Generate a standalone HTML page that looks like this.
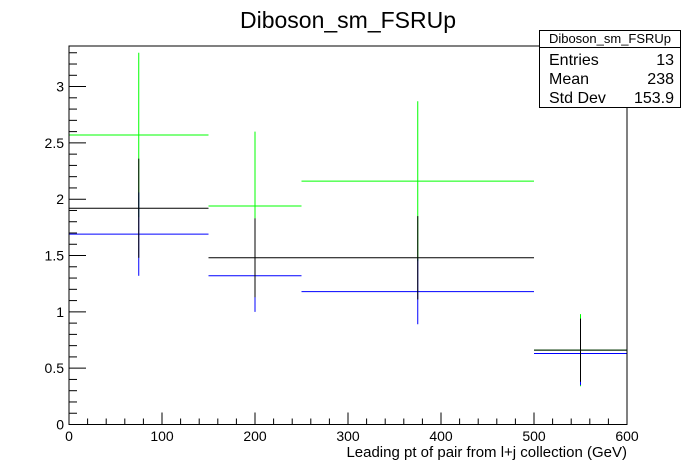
<!DOCTYPE html>
<html><head><meta charset="utf-8"><style>
body{margin:0;background:#fff;}
svg{display:block;font-family:"Liberation Sans",sans-serif;}
</style></head><body>
<svg id="c" width="696" height="472" viewBox="0 0 696 472">
<rect width="696" height="472" fill="#fff"/>
<text x="348" y="28" font-size="23" text-anchor="middle">Diboson_sm_FSRUp</text>
<g id="ticks"></g>
<g id="series"></g>
<rect x="69" y="46" width="558" height="378.5" fill="none" stroke="#000" stroke-width="1"/>
<text x="627" y="457" font-size="15" text-anchor="end">Leading pt of pair from l+j collection (GeV)</text>
<g>
<rect x="539.5" y="30.5" width="141" height="77" fill="#fff" stroke="#000"/>
<line x1="539.5" y1="47.5" x2="680.5" y2="47.5" stroke="#000"/>
<text x="610" y="43" font-size="13" text-anchor="middle">Diboson_sm_FSRUp</text>
<text x="549" y="65" font-size="16">Entries</text><text x="674" y="65" font-size="16" text-anchor="end">13</text>
<text x="549" y="84" font-size="16">Mean</text><text x="674" y="84" font-size="16" text-anchor="end">238</text>
<text x="549" y="103" font-size="16">Std Dev</text><text x="674" y="103" font-size="16" text-anchor="end">153.9</text>
</g>
</svg>
<script>
const binEdges=[0,150,250,500,600];
const blueVals=[1.69,1.32,1.18,0.63];
const blueErrs=[0.37,0.32,0.29,0.28];
const greenVals=[2.57,1.94,2.16,0.66];
const greenErrs=[0.73,0.66,0.71,0.32];
const blackVals=[1.92,1.48,1.48,0.66];
const blackErrs=[0.44,0.35,0.37,0.28];
const xTickLabels=[0,100,200,300,400,500,600];
const yTickLabels=[0,0.5,1,1.5,2,2.5,3];
const X0=69,X1=627,Y0=424.5,YT=46,XMAX=600,YMAX=3.36;
const sx=v=>X0+(v/XMAX)*(X1-X0);
const sy=v=>Y0-(v/YMAX)*(Y0-YT);
const NS="http://www.w3.org/2000/svg";
function mk(parent,tag,attrs){const e=document.createElementNS(NS,tag);for(const k in attrs)e.setAttribute(k,attrs[k]);parent.appendChild(e);return e;}
const tg=document.getElementById('ticks');
for(let v=0;v<=XMAX;v+=20){
 const major=v%100===0;
 const l=mk(tg,'line',{x1:sx(v),x2:sx(v),y1:Y0,y2:Y0-(major?12:6),stroke:'#000'});
 
 
}
xTickLabels.forEach(v=>{
 const t=mk(tg,'text',{x:sx(v),y:441,'font-size':14,'text-anchor':'middle'});
 t.textContent=v;
 
 
});
for(let i=0;i<=33;i++){
 const v=i/10;
 const major=i%5===0;
 const l=mk(tg,'line',{x1:X0,x2:X0+(major?17:8),y1:sy(v),y2:sy(v),stroke:'#000'});
 
 
}
yTickLabels.forEach(v=>{
 const t=mk(tg,'text',{x:X0-5,y:sy(v)+5,'font-size':14,'text-anchor':'end'});
 t.textContent=v;
 
 
});
const sg=document.getElementById('series');
function drawSeries(vals,errs,color,name){
 const g=mk(sg,'g',{stroke:color,'stroke-width':1});
 
 
 vals.forEach((v,i)=>{
  const a=binEdges[i],b=binEdges[i+1],c=(a+b)/2;
  const h=mk(g,'line',{x1:sx(a),x2:sx(b),y1:sy(v),y2:sy(v)});
  
  
  const e=mk(g,'line',{x1:sx(c),x2:sx(c),y1:sy(v-errs[i]),y2:sy(v+errs[i])});
  
  
 });
}
drawSeries(greenVals,greenErrs,'#00ff00','green');
drawSeries(blueVals,blueErrs,'#0000ff','blue');
drawSeries(blackVals,blackErrs,'#000000','black');
</script>
</body></html>
